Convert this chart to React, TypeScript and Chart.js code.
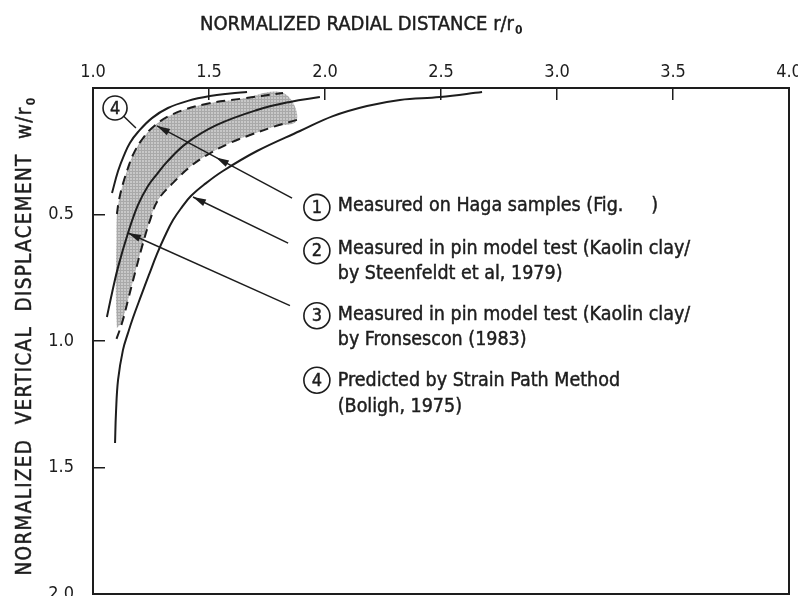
import React, { useEffect, useRef } from 'react';
import { Chart, registerables } from 'chart.js';

Chart.register(...registerables);

// ---------- data (r/r0 , w/r0) ----------
const xTickValues = [1.0, 1.5, 2.0, 2.5, 3.0, 3.5, 4.0];
const yTickValues = [0.0, 0.5, 1.0, 1.5, 2.0];

// (4) Predicted by Strain Path Method
const strainPath = [
  { x: 1.082, y: 0.415 }, { x: 1.108, y: 0.328 }, { x: 1.134, y: 0.265 },
  { x: 1.159, y: 0.217 }, { x: 1.194, y: 0.174 }, { x: 1.254, y: 0.119 },
  { x: 1.323, y: 0.079 }, { x: 1.409, y: 0.051 }, { x: 1.504, y: 0.032 },
  { x: 1.591, y: 0.022 }, { x: 1.664, y: 0.016 },
];

// (1) Haga samples: upper dashed boundary
const hagaUpper = [
  { x: 1.103, y: 0.498 }, { x: 1.112, y: 0.443 }, { x: 1.129, y: 0.379 },
  { x: 1.151, y: 0.316 }, { x: 1.172, y: 0.265 }, { x: 1.207, y: 0.209 },
  { x: 1.259, y: 0.154 }, { x: 1.345, y: 0.103 }, { x: 1.487, y: 0.063 },
  { x: 1.634, y: 0.043 }, { x: 1.819, y: 0.020 },
];
// (1) Haga samples: lower dashed boundary
const hagaLower = [
  { x: 1.879, y: 0.126 }, { x: 1.776, y: 0.154 }, { x: 1.677, y: 0.186 },
  { x: 1.591, y: 0.217 }, { x: 1.491, y: 0.265 }, { x: 1.418, y: 0.312 },
  { x: 1.345, y: 0.375 }, { x: 1.280, y: 0.443 }, { x: 1.246, y: 0.522 },
  { x: 1.211, y: 0.628 }, { x: 1.181, y: 0.731 }, { x: 1.151, y: 0.838 },
  { x: 1.125, y: 0.929 }, { x: 1.095, y: 1.008 },
];
// (1) left edge of the shaded zone below the dashed line
const hagaLeftEdge = [
  { x: 1.103, y: 0.949 }, { x: 1.099, y: 0.838 }, { x: 1.099, y: 0.719 },
  { x: 1.101, y: 0.601 },
];

// middle solid curve
const steenfeldt = [
  { x: 1.060, y: 0.905 }, { x: 1.082, y: 0.810 }, { x: 1.108, y: 0.708 },
  { x: 1.151, y: 0.573 }, { x: 1.194, y: 0.462 }, { x: 1.237, y: 0.387 },
  { x: 1.276, y: 0.340 }, { x: 1.319, y: 0.292 }, { x: 1.405, y: 0.217 },
  { x: 1.534, y: 0.146 }, { x: 1.707, y: 0.087 }, { x: 1.849, y: 0.055 },
  { x: 1.978, y: 0.036 },
];

// right solid curve
const fransescon = [
  { x: 1.095, y: 1.403 }, { x: 1.099, y: 1.285 }, { x: 1.108, y: 1.154 },
  { x: 1.129, y: 1.036 }, { x: 1.151, y: 0.968 }, { x: 1.172, y: 0.909 },
  { x: 1.207, y: 0.822 }, { x: 1.241, y: 0.739 }, { x: 1.276, y: 0.656 },
  { x: 1.310, y: 0.585 }, { x: 1.345, y: 0.522 }, { x: 1.384, y: 0.470 },
  { x: 1.422, y: 0.427 }, { x: 1.483, y: 0.379 }, { x: 1.560, y: 0.328 },
  { x: 1.707, y: 0.249 }, { x: 1.892, y: 0.170 }, { x: 2.034, y: 0.111 },
  { x: 2.181, y: 0.071 }, { x: 2.323, y: 0.047 }, { x: 2.496, y: 0.036 },
  { x: 2.677, y: 0.016 },
];

// annotation texts
const legendNumbers = ['1', '2', '3', '4'];
const legendLines = [
  'Measured on Haga samples (Fig.     )',
  'Measured in pin model test (Kaolin clay/',
  'by Steenfeldt et al, 1979)',
  'Measured in pin model test (Kaolin clay/',
  'by Fronsescon (1983)',
  'Predicted by Strain Path Method',
  '(Boligh, 1975)',
];
const xTitle = 'NORMALIZED RADIAL DISTANCE r/r';
const yTitle = 'NORMALIZED  VERTICAL  DISPLACEMENT  w/r';
const titleSub = '0';

// annotation anchors (data units)
const legendCircleX = 1.965;
const legendCircleY = [0.472, 0.643, 0.900, 1.155];
const legendTextX = 2.055;
const legendLineY = [0.465, 0.636, 0.735, 0.896, 0.996, 1.158, 1.259];
const arrowLines = [
  { from: { x: 1.858, y: 0.435 }, heads: [{ x: 1.276, y: 0.150 }, { x: 1.530, y: 0.275 }] },
  { from: { x: 1.841, y: 0.613 }, heads: [{ x: 1.431, y: 0.431 }] },
  { from: { x: 1.849, y: 0.860 }, heads: [{ x: 1.151, y: 0.573 }] },
];
const curve4Marker = { x: 1.095, y: 0.079 };
const curve4LeaderEnd = { x: 1.185, y: 0.158 };

const FONT = "'DejaVu Sans Condensed', 'DejaVu Sans', sans-serif";
const INK = '#1d1d1d';

function drawArrowHead(ctx: CanvasRenderingContext2D, fx: number, fy: number, tx: number, ty: number) {
  const ang = Math.atan2(ty - fy, tx - fx);
  const len = 13;
  const w = 3.6;
  ctx.beginPath();
  ctx.moveTo(tx, ty);
  ctx.lineTo(tx - len * Math.cos(ang) + w * Math.sin(ang), ty - len * Math.sin(ang) - w * Math.cos(ang));
  ctx.lineTo(tx - len * Math.cos(ang) - w * Math.sin(ang), ty - len * Math.sin(ang) + w * Math.cos(ang));
  ctx.closePath();
  ctx.fill();
}

function boldText(ctx: CanvasRenderingContext2D, t: string, x: number, y: number) {
  ctx.fillText(t, x, y);
  ctx.lineWidth = 0.45;
  ctx.strokeText(t, x, y);
}

function drawCircled(ctx: CanvasRenderingContext2D, cx: number, cy: number, r: number, t: string) {
  ctx.beginPath();
  ctx.arc(cx, cy, r, 0, Math.PI * 2);
  ctx.lineWidth = 1.6;
  ctx.stroke();
  ctx.font = `18px ${FONT}`;
  ctx.textAlign = 'center';
  ctx.textBaseline = 'middle';
  boldText(ctx, t, cx, cy + 1);
}

const annotatePlugin = {
  id: 'annotate',
  afterDraw(chart: any) {
    const { ctx, chartArea: a, scales } = chart;
    const xs = scales.x;
    const ys = scales.y;
    const px = (v: number) => xs.getPixelForValue(v);
    const py = (v: number) => ys.getPixelForValue(v);
    ctx.save();
    ctx.strokeStyle = INK;
    ctx.fillStyle = INK;

    // frame
    ctx.lineWidth = 2;
    ctx.strokeRect(a.left, a.top, a.right - a.left, a.bottom - a.top);

    // arrows
    ctx.lineWidth = 1.5;
    arrowLines.forEach((al) => {
      const fx = px(al.from.x), fy = py(al.from.y);
      const far = al.heads[0];
      ctx.beginPath();
      ctx.moveTo(fx, fy);
      ctx.lineTo(px(far.x), py(far.y));
      ctx.stroke();
      al.heads.forEach((h) => drawArrowHead(ctx, fx, fy, px(h.x), py(h.y)));
    });

    // curve 4 marker
    const mx = px(curve4Marker.x), my = py(curve4Marker.y);
    const lx = px(curve4LeaderEnd.x), ly = py(curve4LeaderEnd.y);
    const ang = Math.atan2(ly - my, lx - mx);
    ctx.beginPath();
    ctx.moveTo(mx + 12 * Math.cos(ang), my + 12 * Math.sin(ang));
    ctx.lineTo(lx, ly);
    ctx.lineWidth = 1.5;
    ctx.stroke();
    drawCircled(ctx, mx, my, 12, '4');

    // legend circles
    legendNumbers.forEach((n, i) => drawCircled(ctx, px(legendCircleX), py(legendCircleY[i]), 13, n));

    // legend texts
    ctx.font = `19.5px ${FONT}`;
    ctx.textAlign = 'left';
    ctx.textBaseline = 'middle';
    legendLines.forEach((t, i) => boldText(ctx, t, px(legendTextX), py(legendLineY[i])));

    // x title (top)
    ctx.font = `20px ${FONT}`;
    ctx.textAlign = 'left';
    ctx.textBaseline = 'alphabetic';
    const tx0 = 200;
    boldText(ctx, xTitle, tx0, 30);
    const w1 = ctx.measureText(xTitle).width;
    ctx.font = `bold 12px ${FONT}`;
    ctx.fillText(titleSub, tx0 + w1 + 1, 34);

    // y title (rotated)
    ctx.save();
    ctx.translate(31, 336);
    ctx.rotate(-Math.PI / 2);
    (ctx as any).letterSpacing = '1.3px';
    ctx.font = `20.5px ${FONT}`;
    const wy = ctx.measureText(yTitle).width;
    ctx.font = `bold 12px ${FONT}`;
    const ws = ctx.measureText(titleSub).width;
    const start = -(wy + ws + 1) / 2;
    ctx.font = `20.5px ${FONT}`;
    ctx.textAlign = 'left';
    boldText(ctx, yTitle, start, 0);
    ctx.font = `bold 12px ${FONT}`;
    ctx.fillText(titleSub, start + wy + 1, 4);
    ctx.restore();

    ctx.restore();
  },
};

export default function App() {
  const ref = useRef<HTMLCanvasElement>(null);
  useEffect(() => {
    const canvas = ref.current!;
    const ctx = canvas.getContext('2d')!;
    const pc = document.createElement('canvas');
    pc.width = 3;
    pc.height = 3;
    const p = pc.getContext('2d')!;
    p.fillStyle = '#c8c8c8';
    p.fillRect(0, 0, 3, 3);
    p.fillStyle = '#a9a9a9';
    p.fillRect(0, 0, 3, 1);
    p.fillRect(0, 0, 1, 3);
    const pattern = ctx.createPattern(pc, 'repeat')!;

    const bandShape = [...hagaLeftEdge, ...hagaUpper, ...hagaLower.filter((q) => q.y < 0.95)];
    const solid = { borderColor: INK, borderWidth: 2, pointRadius: 0, tension: 0.4, fill: false };
    const dashed = { ...solid, borderDash: [9, 6] };

    const chart = new Chart(ctx, {
      type: 'line',
      data: {
        datasets: [
          { label: '4', data: strainPath, ...solid },
          { label: '1 upper', data: hagaUpper, ...dashed },
          { label: '1 lower', data: hagaLower, ...dashed },
          { label: '2', data: steenfeldt, ...solid },
          { label: '3', data: fransescon, ...solid },
          {
            label: 'band', data: bandShape, borderWidth: 0, pointRadius: 0, tension: 0.4,
            fill: 'shape', backgroundColor: pattern, borderColor: 'rgba(0,0,0,0)',
          },
        ] as any,
      },
      options: {
        responsive: false,
        animation: false,
        parsing: false as any,
        layout: { padding: { left: 0, top: 0, right: 9, bottom: 2 } },
        plugins: {
          legend: { display: false },
          tooltip: { enabled: false },
          filler: { drawTime: 'beforeDatasetsDraw' } as any,
        },
        scales: {
          x: {
            type: 'linear',
            position: 'top',
            min: 1,
            max: 4,
            afterBuildTicks: (s: any) => { s.ticks = xTickValues.map((v) => ({ value: v })); },
            afterFit: (s: any) => { s.height = 88; s.paddingLeft = 0; s.paddingRight = 0; },
            grid: { drawOnChartArea: false, drawTicks: true, tickLength: -12, color: INK, lineWidth: 1.5 },
            border: { display: false },
            ticks: {
              padding: 17,
              color: INK,
              font: { family: FONT, size: 18 },
              maxRotation: 0,
              callback: (v: any) => Number(v).toFixed(1),
            },
          },
          y: {
            type: 'linear',
            reverse: true,
            min: 0,
            max: 2,
            afterBuildTicks: (s: any) => { s.ticks = yTickValues.map((v) => ({ value: v })); },
            afterFit: (s: any) => { s.width = 93; s.paddingTop = 0; s.paddingBottom = 0; },
            grid: { drawOnChartArea: false, drawTicks: true, tickLength: -12, color: INK, lineWidth: 1.5 },
            border: { display: false },
            ticks: {
              padding: 31,
              color: INK,
              font: { family: FONT, size: 18 },
              callback: (v: any) => (Number(v) === 0 ? '' : Number(v).toFixed(1)),
            },
          },
        },
      },
      plugins: [annotatePlugin],
    });
    return () => chart.destroy();
  }, []);

  return (
    <div style={{ position: 'fixed', left: 0, top: 0, width: 798, height: 596, background: '#fff', overflow: 'hidden' }}>
      <canvas ref={ref} width={798} height={596} style={{ display: 'block' }} />
    </div>
  );
}
